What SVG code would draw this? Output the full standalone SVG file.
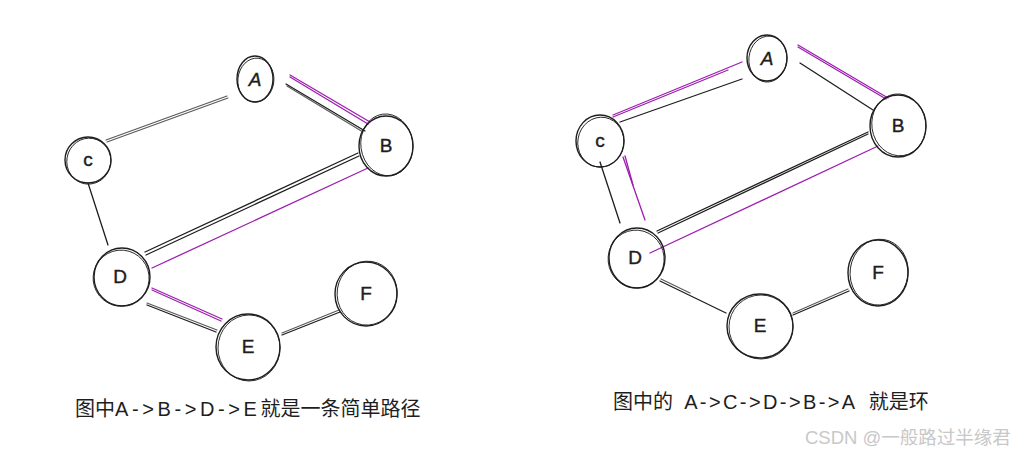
<svg xmlns="http://www.w3.org/2000/svg" width="1020" height="455" viewBox="0 0 1020 455">
<style>
.n{fill:none;stroke:#1e1e1e;stroke-width:1.4}
.n2{fill:none;stroke:#1e1e1e;stroke-width:0.9}
.lb{font-family:"Liberation Sans",sans-serif;font-size:19px;fill:#1e1e1e;stroke:#1e1e1e;stroke-width:0.4;text-anchor:middle}
.k{stroke:#1e1e1e;stroke-width:1.3;fill:none;stroke-linecap:round}
.g{stroke:#5a5a5a;stroke-width:1.2;fill:none;stroke-linecap:round}
.m{stroke:#9c1fae;stroke-width:1.3;fill:none;stroke-linecap:round}
.cap{font-family:"Liberation Sans","Noto Sans CJK SC",sans-serif;font-size:20px;fill:#1e1e1e}
.lat{letter-spacing:3.6px}
.wm{font-family:"Liberation Sans","Noto Sans CJK SC",sans-serif;font-size:18.5px;fill:#c8c8c8}
</style>
<rect width="1020" height="455" fill="#fff"/>
<g id="connectors">
  <line class="g" x1="107" y1="142" x2="228" y2="98"/>
  <line class="g" x1="106" y1="140" x2="227" y2="96"/>
  <line class="k" x1="286" y1="84" x2="365" y2="131"/>
  <line class="g" x1="287" y1="86" x2="363" y2="132"/>
  <line class="m" x1="290" y1="75" x2="370" y2="122"/>
  <line class="m" x1="290" y1="77" x2="368" y2="124"/>
  <line class="k" x1="88" y1="183" x2="108" y2="245"/>
  <line class="k" x1="145" y1="252" x2="358" y2="153"/>
  <line class="k" x1="146" y1="255" x2="359" y2="156"/>
  <line class="m" x1="152" y1="268" x2="368" y2="168"/>
  <line class="g" x1="147" y1="303" x2="217" y2="330"/>
  <line class="k" x1="147" y1="305" x2="216" y2="332"/>
  <line class="m" x1="152" y1="288" x2="222" y2="319"/>
  <line class="m" x1="152" y1="290" x2="221" y2="321"/>
  <line class="k" x1="282" y1="335" x2="340" y2="312"/>
  <line class="g" x1="282" y1="333" x2="339" y2="310"/>
  <line class="k" x1="620" y1="122" x2="742" y2="79"/>
  <line class="m" x1="613" y1="115" x2="742" y2="62"/>
  <line class="m" x1="613" y1="117" x2="728" y2="70"/>
  <line class="k" x1="800" y1="63" x2="873" y2="110"/>
  <line class="m" x1="798" y1="45" x2="888" y2="98"/>
  <line class="m" x1="798" y1="47" x2="886" y2="99"/>
  <line class="k" x1="600" y1="162" x2="620" y2="223"/>
  <line class="m" x1="623" y1="157" x2="645" y2="220"/>
  <line class="m" x1="625" y1="156" x2="633" y2="185"/>
  <line class="k" x1="657" y1="231" x2="868" y2="132"/>
  <line class="k" x1="658" y1="233" x2="868" y2="134"/>
  <line class="m" x1="650" y1="253" x2="878" y2="146"/>
  <line class="k" x1="660" y1="281" x2="726" y2="313"/>
  <line class="g" x1="661" y1="279" x2="690" y2="293"/>
  <line class="k" x1="793" y1="315" x2="849" y2="291"/>
  <line class="g" x1="793" y1="313" x2="848" y2="289"/>
</g>
<g id="left-A"><ellipse class="n" cx="255" cy="79" rx="18" ry="23"/><ellipse class="n2" cx="256" cy="80" rx="18" ry="22" transform="rotate(6 255 79)"/><text class="lb" x="255" y="86" font-style="italic">A</text></g>
<g id="left-B"><ellipse class="n" cx="386" cy="146" rx="27" ry="30"/><ellipse class="n2" cx="387" cy="145" rx="26" ry="31" transform="rotate(-8 386 146)"/><text class="lb" x="386" y="152">B</text></g>
<g id="left-C"><ellipse class="n" cx="88" cy="160" rx="23" ry="23"/><ellipse class="n2" cx="89" cy="161" rx="22" ry="23" transform="rotate(10 88 160)"/><text class="lb" x="88" y="166">c</text></g>
<g id="left-D"><ellipse class="n" cx="122" cy="277" rx="28" ry="29"/><ellipse class="n2" cx="121" cy="278" rx="28" ry="28" transform="rotate(-6 122 277)"/><text class="lb" x="120" y="283">D</text></g>
<g id="left-E"><ellipse class="n" cx="248" cy="347" rx="32" ry="33"/><ellipse class="n2" cx="249" cy="348" rx="31" ry="33"/><text class="lb" x="248" y="353">E</text></g>
<g id="left-F"><ellipse class="n" cx="366" cy="294" rx="31" ry="32"/><ellipse class="n2" cx="367" cy="293" rx="30" ry="32" transform="rotate(8 366 294)"/><text class="lb" x="366" y="300">F</text></g>
<g id="right-A"><ellipse class="n" cx="767" cy="58" rx="20" ry="23"/><ellipse class="n2" cx="768" cy="59" rx="19" ry="23" transform="rotate(6 767 58)"/><text class="lb" x="767" y="65" font-style="italic">A</text></g>
<g id="right-B"><ellipse class="n" cx="898" cy="126" rx="28" ry="31"/><ellipse class="n2" cx="899" cy="125" rx="27" ry="31" transform="rotate(-8 898 126)"/><text class="lb" x="898" y="132">B</text></g>
<g id="right-C"><ellipse class="n" cx="600" cy="141" rx="24" ry="26"/><ellipse class="n2" cx="601" cy="142" rx="23" ry="25" transform="rotate(10 600 141)"/><text class="lb" x="600" y="147">c</text></g>
<g id="right-D"><ellipse class="n" cx="637" cy="258" rx="28" ry="30"/><ellipse class="n2" cx="636" cy="259" rx="28" ry="29" transform="rotate(-6 637 258)"/><text class="lb" x="635" y="264">D</text></g>
<g id="right-E"><ellipse class="n" cx="760" cy="326" rx="33" ry="32"/><ellipse class="n2" cx="761" cy="327" rx="32" ry="32"/><text class="lb" x="760" y="332">E</text></g>
<g id="right-F"><ellipse class="n" cx="878" cy="273" rx="30" ry="33"/><ellipse class="n2" cx="879" cy="272" rx="29" ry="33" transform="rotate(8 878 273)"/><text class="lb" x="878" y="279">F</text></g>
<text class="cap" x="75" y="416">图中<tspan class="lat">A-&gt;B-&gt;D-&gt;E</tspan>就是一条简单路径</text>
<text class="cap" x="613" y="409" xml:space="preserve">图中的  <tspan letter-spacing="2.4">A-&gt;C-&gt;D-&gt;B-&gt;A</tspan>  就是环</text>
<text class="wm" x="805" y="444">CSDN @一般路过半缘君</text>
</svg>
